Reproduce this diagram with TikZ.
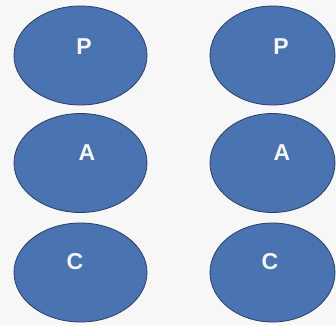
\documentclass[tikz,border=0pt]{standalone}
\usepackage{fontspec}
\setmainfont{Liberation Sans}
\usetikzlibrary{shapes.geometric}
\definecolor{bg}{HTML}{F7F7F7}
\definecolor{ellfill}{HTML}{4A73B1}
\definecolor{elldraw}{HTML}{2B3F66}
\definecolor{lettercol}{HTML}{F4F6FA}
\tikzset{
  oval/.style={ellipse, draw=elldraw, fill=ellfill, line width=0.8pt, inner sep=0pt},
  leftoval/.style={oval, minimum width=133pt, minimum height=99pt},
  rightoval/.style={oval, minimum width=125pt, minimum height=99pt},
  letter/.style={text=lettercol, font=\fontsize{23}{23}\selectfont\bfseries, inner sep=0pt}
}
\begin{document}
\begin{tikzpicture}[x=1pt,y=1pt]
\fill[bg] (0,0) rectangle (336,325);
\useasboundingbox (0,0) rectangle (336,325);
\node[leftoval] (l1) at (80.5,269.5) {};
\node[leftoval] (l2) at (80.5,162) {};
\node[leftoval] (l3) at (80.5,52.5) {};
\node[rightoval] (r1) at (272.5,269.5) {};
\node[rightoval] (r2) at (272.5,162) {};
\node[rightoval] (r3) at (272.5,52.5) {};
\node[letter] (tl1) at (84,278) {P};
\node[letter] (tl2) at (87,172) {A};
\node[letter] (tl3) at (75,63.5) {C};
\node[letter] (tr1) at (281,278) {P};
\node[letter] (tr2) at (282,172) {A};
\node[letter] (tr3) at (270,63.5) {C};
\end{tikzpicture}
\end{document}
